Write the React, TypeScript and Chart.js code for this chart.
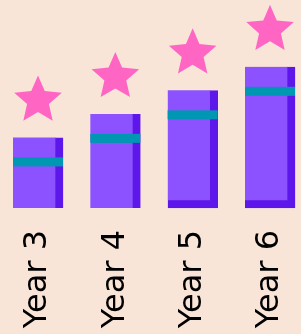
import React, { useEffect, useRef } from "react";
import { Chart, registerables } from "chart.js";

Chart.register(...registerables);

const categories = ["Year 3", "Year 4", "Year 5", "Year 6"];
const values = [3, 4, 5, 6];
const hasBottomEdge = [false, false, true, true];

const BG = "#f9e5d8";
const BAR = "#8c52ff";
const DARK = "#5e17eb";
const TEAL = "#0097b2";
const STAR = "#ff66c4";

function drawStar(ctx: CanvasRenderingContext2D, cx: number, cy: number, R: number, r: number) {
  ctx.beginPath();
  for (let i = 0; i < 10; i++) {
    const a = -Math.PI / 2 + (i * Math.PI) / 5;
    const rad = i % 2 === 0 ? R : r;
    const px = cx + rad * Math.cos(a);
    const py = cy + rad * Math.sin(a);
    if (i === 0) ctx.moveTo(px, py);
    else ctx.lineTo(px, py);
  }
  ctx.closePath();
  ctx.fill();
}

const decorPlugin = {
  id: "decor",
  afterDatasetsDraw(chart: any) {
    const ctx = chart.ctx as CanvasRenderingContext2D;
    const meta = chart.getDatasetMeta(0);
    meta.data.forEach((bar: any) => {
      const { x, y, width } = bar.getProps(["x", "y", "width"], true);
      ctx.save();
      ctx.fillStyle = TEAL;
      ctx.fillRect(x - width / 2, y + 20, width, 9);
      ctx.fillStyle = STAR;
      drawStar(ctx, x, y - 37, 25, 11.5);
      ctx.restore();
    });
  },
};

export default function App() {
  const ref = useRef<HTMLCanvasElement>(null);

  useEffect(() => {
    if (!ref.current) return;
    const chart = new Chart(ref.current, {
      type: "bar",
      data: {
        labels: categories,
        datasets: [
          {
            data: values,
            backgroundColor: BAR,
            borderColor: DARK,
            borderSkipped: false,
            borderWidth: (c: any) => ({
              top: 0,
              left: 0,
              right: 8,
              bottom: hasBottomEdge[c.dataIndex] ? 8 : 0,
            }),
            barThickness: 50,
            clip: false,
          } as any,
        ],
      },
      options: {
        animation: false,
        responsive: false,
        maintainAspectRatio: false,
        devicePixelRatio: 1,
        layout: { padding: { left: 38, right: 31, top: 8, bottom: 0 } },
        plugins: {
          legend: { display: false },
          tooltip: { enabled: false },
        },
        scales: {
          x: {
            offset: false,
            grid: {
              display: true,
              color: "rgba(0,0,0,0)",
              drawOnChartArea: false,
              drawTicks: true,
              tickLength: 22,
            },
            border: { display: false },
            ticks: {
              color: "#000",
              font: { family: "DejaVu Sans", size: 32 },
              minRotation: 90,
              maxRotation: 90,
              autoSkip: false,
              padding: 0,
            },
            afterFit: (scale: any) => {
              scale.height = 126;
              scale.paddingLeft = 0;
              scale.paddingRight = 0;
            },
          },
          y: {
            display: false,
            min: 0,
            max: 8.5,
          },
        },
      },
      plugins: [decorPlugin],
    });
    return () => chart.destroy();
  }, []);

  return (
    <div
      style={{
        position: "fixed",
        left: 0,
        top: 0,
        width: 301,
        height: 334,
        background: BG,
      }}
    >
      <canvas ref={ref} width={301} height={334} style={{ display: "block" }} />
    </div>
  );
}
